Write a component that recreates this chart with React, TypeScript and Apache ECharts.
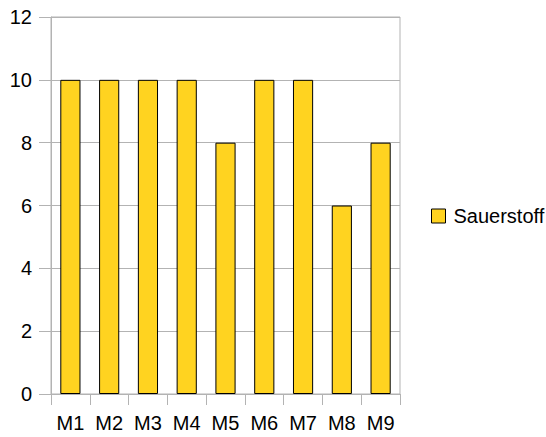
import React, { useEffect, useRef } from "react";
import * as echarts from "echarts";

const categories = ["M1", "M2", "M3", "M4", "M5", "M6", "M7", "M8", "M9"];
const sauerstoff = [10, 10, 10, 10, 8, 10, 10, 6, 8];
const seriesName = "Sauerstoff";

export default function App() {
  const ref = useRef<HTMLDivElement>(null);

  useEffect(() => {
    if (!ref.current) return;
    const chart = echarts.init(ref.current, undefined, { renderer: "svg" });
    const font = "'Liberation Sans', Arial, sans-serif";
    chart.setOption({
      animation: false,
      backgroundColor: "#ffffff",
      textStyle: { fontFamily: font },
      grid: {
        left: 51,
        right: 146,
        top: 17,
        bottom: 43,
        containLabel: false,
        show: true,
        borderColor: "#b3b3b3",
        borderWidth: 1,
      },
      legend: {
        data: [seriesName],
        left: 431,
        top: 206,
        padding: 0,
        orient: "vertical",
        itemWidth: 14,
        itemHeight: 14,
        itemGap: 8,
        icon: "rect",
        textStyle: { fontFamily: font, fontSize: 20, color: "#000000", padding: [0, 0, 0, 3] },
        itemStyle: { borderColor: "#000000", borderWidth: 1 },
      },
      xAxis: {
        type: "category",
        data: categories,
        axisLine: { lineStyle: { color: "#b3b3b3" } },
        axisTick: { show: true, length: 11, alignWithLabel: false, lineStyle: { color: "#b3b3b3" } },
        axisLabel: { fontFamily: font, fontSize: 20, color: "#000000", margin: 19 },
      },
      yAxis: {
        type: "value",
        min: 0,
        max: 12,
        interval: 2,
        axisLine: { show: true, lineStyle: { color: "#b3b3b3" } },
        axisTick: { show: true, length: 12, lineStyle: { color: "#b3b3b3" } },
        axisLabel: { fontFamily: font, fontSize: 20, color: "#000000", margin: 19 },
        splitLine: { show: true, lineStyle: { color: "#b3b3b3" } },
      },
      series: [
        {
          name: seriesName,
          type: "bar",
          data: sauerstoff,
          barWidth: "52%",
          itemStyle: { color: "#ffd320", borderColor: "#000000", borderWidth: 1 },
        },
      ],
    });
    return () => chart.dispose();
  }, []);

  return (
    <div
      ref={ref}
      style={{ position: "fixed", left: 0, top: 0, width: 546, height: 437 }}
    />
  );
}
